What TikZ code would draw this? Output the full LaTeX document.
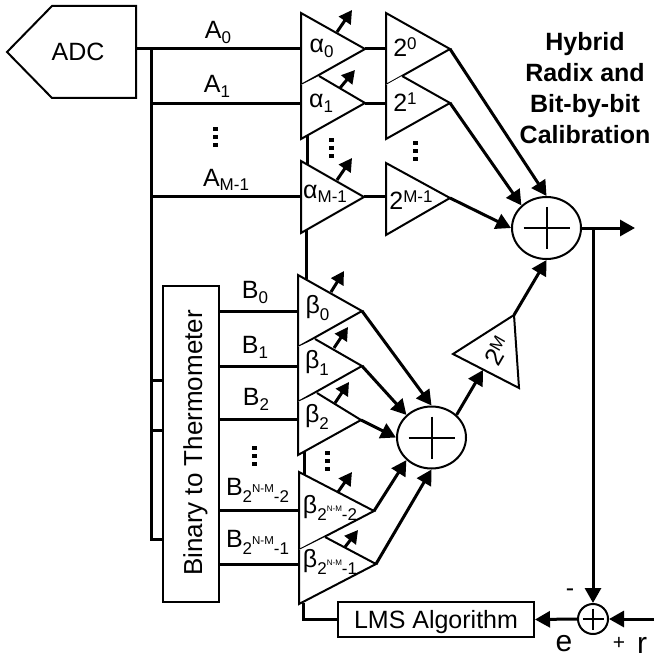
\documentclass[tikz,border=0pt]{standalone}
\usepackage{fontspec}
\setmainfont{Liberation Sans}
\usetikzlibrary{arrows.meta, calc, shapes.geometric}
\newcommand{\Sub}[1]{\raisebox{-5pt}{\fontsize{17}{17}\selectfont #1}}
\newcommand{\SubLow}[1]{\raisebox{-7pt}{\fontsize{17}{17}\selectfont #1}}
\newcommand{\Sup}[1]{\raisebox{7pt}{\fontsize{17}{17}\selectfont #1}}
\newcommand{\Exp}[1]{\raisebox{3pt}{\fontsize{11.5}{11.5}\selectfont #1}}
\newcommand{\ExpSmall}[1]{\raisebox{2pt}{\fontsize{8}{8}\selectfont #1}}
\tikzset{
	wire/.style={line width=3pt},
	amp/.style={draw=black, fill=white, line width=2pt, line join=miter},
	bigarrow/.style={line width=3pt, -{Triangle[length=15pt, width=16pt]}},
	tune/.style={line width=3pt, -{Triangle[length=13pt, width=14pt]}},
	label/.style={inner sep=0pt, anchor=base, font=\fontsize{25}{25}\selectfont},
	signtext/.style={inner sep=0pt, anchor=base, font=\fontsize{30}{30}\selectfont},
	summer/.style={draw=black, fill=white, ellipse, line width=2pt, minimum width=69pt, minimum height=62pt, inner sep=0pt},
	box/.style={draw=black, fill=white, line width=2pt, inner sep=0pt},
}
\newcommand{\Vdots}[2]{%
	\fill (#1,#2-9) rectangle ++(5,4);
	\fill (#1,#2-1) rectangle ++(5,4);
	\fill (#1,#2+7) rectangle ++(5,4);
}
\begin{document}
\begin{tikzpicture}[x=1pt, y=-1pt, line cap=butt]
	\useasboundingbox (0,0) rectangle (654,660);

	\coordinate (adcout) at (136,49);
	\coordinate (busA) at (151,49);
	\coordinate (busB) at (151,539);
	\coordinate (tapA) at (163,380);
	\coordinate (tapB) at (163,430);
	\coordinate (tapC) at (163,539);

	% ADC
	\draw[amp] (7,52) -- (52,6) -- (136,6) -- (136,98) -- (52,98) -- cycle;
	\node[label] (adc) at (78,61) {ADC};

	% input bus
	\draw[wire] (adcout) -- (301,49);
	\draw[wire] (busA) -- (busB) -- (tapC);
	\draw[wire] (151,104) -- (301,104);
	\draw[wire] (151,197) -- (301,197);
	\draw[wire] (151,380) -- (tapA);
	\draw[wire] (151,430) -- (tapB);

	% thermometer box
	\node[box, minimum width=56pt, minimum height=316pt] (therm) at (191,444) {};
	\node[label, rotate=90, font=\fontsize{26}{26}\selectfont] (thermtext) at (202,443) {Binary to Thermometer};

	% gain line behind the amplifiers
	\draw[wire] (307,135) -- (307,165);
	\draw[wire] (306,229) -- (306,279);
	\draw[wire] (304,451) -- (304,476);

	% thermometer outputs
	\foreach \y in {311,366,419,510,564}
		\draw[wire] (219,\y) -- (298,\y);

	% alpha amplifiers
	\draw[amp] (301,13) -- (365,49) -- (301,85) -- cycle;
	\draw[amp] (319,76) -- (365,103) -- (301,139) -- (301,85);
	\draw[amp] (301,161) -- (364,197) -- (301,233) -- cycle;
	\draw[wire] (365,49) -- (386,49);
	\draw[wire] (365,104) -- (386,104);
	\draw[wire] (364,197) -- (386,197);

	% radix amplifiers
	\draw[amp] (386,13) -- (450,49) -- (386,85) -- cycle;
	\draw[amp] (402,76) -- (450,103) -- (386,139) -- (386,85);
	\draw[amp] (386,163) -- (450,198) -- (386,235) -- cycle;

	% beta amplifiers
	\draw[amp] (298,275) -- (362,311) -- (298,347) -- cycle;
	\draw[amp] (315,339) -- (362,366) -- (298,402) -- (298,347);
	\draw[amp] (317,393) -- (361,420) -- (298,455) -- (298,402);
	\draw[amp] (299,472) -- (374,511) -- (299,550) -- cycle;
	\draw[amp] (325,537) -- (376,564) -- (299,604) -- (299,550);

	% tuning arrows
	\draw[tune] (337,32) -- (352,10);
	\draw[tune] (340,88) -- (355,70);
	\draw[tune] (337,180) -- (352,158);
	\draw[tune] (331,292) -- (344,271);
	\draw[tune] (334,348) -- (348,327);
	\draw[tune] (335,403) -- (349,382);
	\draw[tune] (338,492) -- (352,472);
	\draw[tune] (345,547) -- (358,530);

	% adders
	\node[summer] (sumA) at (546.5,228) {};
	\node[summer] (sumB) at (431.5,437.5) {};
	\node[draw=black, fill=white, circle, line width=2pt, minimum size=30pt, inner sep=0pt] (sumC) at (593,619) {};
	\foreach \n/\w/\v in {sumA/23/21, sumB/23/21, sumC/10.5/10.5} {
		\draw[line width=2pt] ($(\n)+(-\w,0)$) -- ($(\n)+(\w,0)$);
		\draw[line width=2pt] ($(\n)+(0,-\v)$) -- ($(\n)+(0,\v)$);
	}

	% scaled outputs
	\draw[bigarrow] (450,49) -- (sumA.north);
	\draw[bigarrow] (450,103) -- (sumA.north west);
	\draw[bigarrow] (450,198) -- (sumA.west);
	\draw[bigarrow] (362,311) -- (sumB.north);
	\draw[bigarrow] (362,366) -- (sumB.north west);
	\draw[bigarrow] (361,420) -- (sumB.west);
	\draw[bigarrow] (374,511) -- (sumB.south west);
	\draw[bigarrow] (376,564) -- (sumB.south);

	% 2^M
	\coordinate (gainin) at (483,370);
	\draw[amp] (453,354) -- (514,315) -- (519,388) -- cycle;
	\draw[bigarrow] (sumB.north east) -- (gainin);
	\draw[bigarrow] (514,315) -- (sumA.south);

	% output and feedback
	\draw[bigarrow] (sumA.east) -- (635,228);
	\draw[bigarrow] (593,228) -- (sumC.north);
	\coordinate (rin) at (654,619);
	\draw[bigarrow] (rin) -- (sumC.east);
	\node[box, minimum width=196pt, minimum height=35pt] (lms) at (436,619.5) {};
	\node[label] (lmstext) at (436,628) {LMS Algorithm};
	\draw[bigarrow] (sumC.west) -- (lms.east);
	\coordinate (lmscorner) at (303,619.5);
	\draw[wire] (lms.west) -- (lmscorner) -- (303,603);

	% labels
	\node[label] at (218,39) {A\Sub{0}};
	\node[label] at (217,93) {A\Sub{1}};
	\node[label] at (226,186) {A\Sub{M-1}};
	\node[label] at (255,298) {B\Sub{0}};
	\node[label] at (255,353) {B\Sub{1}};
	\node[label] at (256,405) {B\Sub{2}};
	\node[label] at (257.5,495) {B\SubLow{2}\Exp{N-M}\SubLow{-2}};
	\node[label] at (257.5,547) {B\SubLow{2}\Exp{N-M}\SubLow{-1}};
	\node[label] at (321.5,53) {α\Sub{0}};
	\node[label] at (321,108) {α\Sub{1}};
	\node[label] at (325,198) {α\Sub{M-1}};
	\node[label] at (317.5,313) {β\SubLow{0}};
	\node[label] at (317,368) {β\SubLow{1}};
	\node[label] at (317,422) {β\SubLow{2}};
	\node[label] at (330,513) {β\SubLow{2}\ExpSmall{N-M}\SubLow{-2}};
	\node[label] at (330,567) {β\SubLow{2}\ExpSmall{N-M}\SubLow{-1}};
	\node[label] at (405,57) {2\Sup{0}};
	\node[label] at (405,112) {2\Sup{1}};
	\node[label] at (411,210) {2\Sup{M-1}};
	\node[inner sep=0pt, rotate=60, font=\fontsize{25}{25}\selectfont] (gainlabel) at (497,351) {2\Sup{M}};

	% dots
	\Vdots{213}{136}
	\Vdots{329}{147}
	\Vdots{413}{150}
	\Vdots{252}{455}
	\Vdots{325}{460}

	% title
	\node[inner sep=0pt, align=center, font=\bfseries\fontsize{25}{31}\selectfont] (title) at (585,88) {Hybrid\\Radix and\\Bit-by-bit\\Calibration};

	% signs
	\node[label] at (570,596) {-};
	\node[signtext] (elabel) at (564,651) {e};
	\node[inner sep=0pt, anchor=base, font=\fontsize{21}{21}\selectfont] at (619,649) {+};
	\node[signtext] (rlabel) at (642,653) {r};
\end{tikzpicture}
\end{document}
